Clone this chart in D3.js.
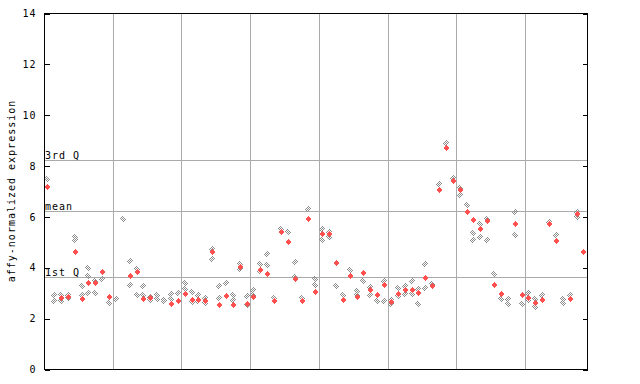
<!DOCTYPE html>
<html>
<head>
<meta charset="utf-8">
<script src="https://cdn.jsdelivr.net/npm/d3@7"></script>
<style>
  body { margin: 0; background: #fff; }
  svg text { font-family: "DejaVu Sans Mono", monospace; font-size: 10px; letter-spacing: 1px; }
</style>
</head>
<body>
<div id="chart"></div>
<script>
// values, one entry per sample (left to right)
const openValues = [
  [7.48], [2.94, 2.71], [2.94, 2.71], [2.94, 2.81], [5.22, 5.09],
  [3.30, 2.94], [4.01, 3.66, 3.02], [3.49, 3.02], [3.55], [2.63],
  [2.79], [5.90], [4.25, 3.34], [3.94, 2.94], [3.30, 2.94],
  [2.86, 2.75], [2.94, 2.79], [2.75, 2.68], [2.98, 2.79], [3.02],
  [3.42, 3.18], [3.06, 2.66], [2.94, 2.68], [2.81, 2.60], [4.73, 4.33],
  [3.30, 2.83], [3.42], [2.94, 2.75], [4.13, 3.94], [2.91, 2.53],
  [3.14, 2.94], [4.13, 3.88], [4.56, 4.09], [2.81], [5.51],
  [5.39], [4.21, 3.62], [2.81], [6.30], [3.54, 3.34],
  [5.51, 5.11], [5.39, 5.23], [3.30], [2.94], [3.93],
  [3.10, 2.94], [3.50], [3.26, 2.94], [2.68], [3.50, 2.71],
  [2.75, 2.56], [3.22, 2.91], [3.30, 2.98], [3.50, 2.98], [3.18, 2.59],
  [4.13, 3.22], [3.38], [7.28], [8.90], [7.52],
  [7.12, 6.85], [6.46], [5.35, 5.11], [5.74, 5.23], [5.92, 5.11],
  [3.77], [2.79], [2.79, 2.59], [6.18, 5.27], [2.59],
  [3.02, 2.74], [2.79, 2.47], [2.94], [5.80], [5.27],
  [2.79, 2.63], [2.94], [6.18, 5.98], []
];
const solidValues = [
  [7.17], [], [2.81], [2.87], [4.64],
  [2.79], [3.42], [3.39], [3.84], [2.85],
  [], [], [3.69], [3.84], [2.79],
  [2.80], [], [], [2.59], [2.69],
  [2.98], [2.72], [2.75], [2.71], [4.64],
  [2.55], [2.89], [2.55], [4.03], [2.59],
  [2.84], [3.93], [3.77], [2.69], [5.39],
  [5.00], [3.54], [2.69], [5.92], [3.06],
  [5.31], [5.31], [4.19], [2.75], [3.69],
  [2.87], [3.80], [3.14], [2.94], [3.34],
  [2.64], [2.98], [3.14], [3.14], [3.02],
  [3.58], [3.30], [7.06], [8.72], [7.41],
  [7.05], [6.20], [5.86], [5.51], [5.84],
  [3.34], [2.97], [], [5.71], [2.94],
  [2.82], [2.63], [2.72], [5.71], [5.04],
  [], [2.79], [6.10], [4.64]
];
const refLines = [
  { label: "3rd Q", value: 8.21 },
  { label: "mean", value: 6.22 },
  { label: "1st Q", value: 3.62 }
];
const yTicks = [0, 2, 4, 6, 8, 10, 12, 14];
const groupSize = 10;

const width = 640, height = 384;
const plotLeft = 44.5, plotRight = 587.5, plotTop = 13.5, plotBottom = 369.5;
const red = "#ff5050";
const grey = "#8c8c8c";

const svg = d3.select("#chart").append("svg")
  .attr("width", width)
  .attr("height", height);

const defs = svg.append("defs");
const pat = defs.append("pattern")
  .attr("id", "checker")
  .attr("patternUnits", "userSpaceOnUse")
  .attr("width", 2).attr("height", 2);
pat.append("rect").attr("x", 0).attr("y", 0).attr("width", 1).attr("height", 1).attr("fill", grey);
pat.append("rect").attr("x", 1).attr("y", 1).attr("width", 1).attr("height", 1).attr("fill", grey);

const n = openValues.length;
const x = d3.scaleLinear().domain([0, n]).range([plotLeft, plotRight]);
const y = d3.scaleLinear().domain([0, 14]).range([plotBottom, plotTop]);
const px = v => Math.floor(v) + 0.5;

// vertical grid lines every 10 samples
const gridX = d3.range(groupSize, n, groupSize);
svg.append("g").selectAll("line")
  .data(gridX)
  .enter().append("line")
  .attr("x1", d => px(x(d))).attr("x2", d => px(x(d)))
  .attr("y1", plotTop).attr("y2", plotBottom)
  .attr("stroke", "#aaaaaa")
  .attr("shape-rendering", "crispEdges");

// quartile / mean lines
const ref = svg.append("g");
ref.selectAll("line")
  .data(refLines)
  .enter().append("line")
  .attr("x1", plotLeft).attr("x2", plotRight)
  .attr("y1", d => px(y(d.value))).attr("y2", d => px(y(d.value)))
  .attr("stroke", "#aaaaaa")
  .attr("shape-rendering", "crispEdges");
ref.selectAll("text")
  .data(refLines)
  .enter().append("text")
  .attr("x", plotLeft + 0.5)
  .attr("y", d => px(y(d.value)) - 2)
  .attr("fill", "#000")
  .text(d => d.label);

// points
function diamond(cx, cy, r) {
  return `M${cx},${cy - r}L${cx + r},${cy}L${cx},${cy + r}L${cx - r},${cy}Z`;
}
const flat = arr => arr.flatMap((vals, i) => vals.map(v => ({ i, v })));
const cx = d => Math.round(x(d.i + 0.4));
const cy = d => Math.round(y(d.v));

svg.append("g").selectAll("path")
  .data(flat(openValues))
  .enter().append("path")
  .attr("d", d => diamond(cx(d), cy(d), 3.5))
  .attr("fill", "url(#checker)")
  .attr("shape-rendering", "crispEdges");

svg.append("g").selectAll("path")
  .data(flat(solidValues))
  .enter().append("path")
  .attr("d", d => diamond(cx(d), cy(d), 3))
  .attr("fill", red)
  .attr("shape-rendering", "crispEdges");

// frame
svg.append("rect")
  .attr("x", plotLeft).attr("y", plotTop)
  .attr("width", plotRight - plotLeft).attr("height", plotBottom - plotTop)
  .attr("fill", "none")
  .attr("stroke", "#000")
  .attr("shape-rendering", "crispEdges");

// y axis, ticks pointing inward on both sides
const yAxisL = d3.axisLeft(y).tickValues(yTicks).tickSize(-5).tickPadding(8).tickFormat(d3.format("d"));
const gL = svg.append("g").attr("transform", `translate(${plotLeft},0)`).call(yAxisL);
gL.select(".domain").remove();
gL.selectAll("line").attr("shape-rendering", "crispEdges");
gL.selectAll("text").attr("font-family", "DejaVu Sans Mono").attr("font-size", 10).attr("fill", "#000");

const yAxisR = d3.axisRight(y).tickValues(yTicks).tickSize(-5).tickFormat("");
const gR = svg.append("g").attr("transform", `translate(${plotRight},0)`).call(yAxisR);
gR.select(".domain").remove();
gR.selectAll("line").attr("shape-rendering", "crispEdges");

// y axis title
svg.append("text")
  .attr("transform", `translate(15,191) rotate(-90)`)
  .attr("text-anchor", "middle")
  .attr("fill", "#000")
  .text("affy-normalized expression");
</script>
</body>
</html>
